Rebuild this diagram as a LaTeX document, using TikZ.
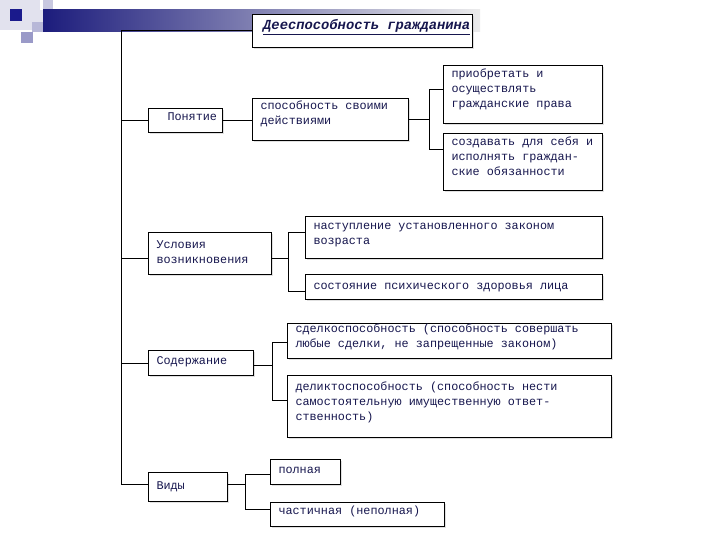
\documentclass[tikz,border=0pt]{standalone}
\usepackage{fontspec}
\setmonofont{Liberation Mono}
\usetikzlibrary{shadows}
\definecolor{txt}{HTML}{16164E}
\definecolor{navy}{HTML}{1C1C7C}
\definecolor{dkblue}{HTML}{1A1A8C}
\definecolor{lav1}{HTML}{E2E2EE}
\definecolor{lav2}{HTML}{C8C8E0}
\definecolor{lav3}{HTML}{9A9AC8}
\definecolor{lav4}{HTML}{B8B8D8}
\newcommand\tb[4]{\parbox[c][#2pt][t]{#1pt}{\fontsize{11.8}{15}\selectfont\ttfamily\raggedright\color{txt}\vspace*{\dimexpr#3pt-10.5pt\relax}\strut #4}}
\tikzset{
  box/.style={draw, line width=1pt, fill=white, inner ysep=0pt, inner xsep=8pt, anchor=north west,
    drop shadow={shadow xshift=1.5pt, shadow yshift=-1.5pt, fill=black!20, opacity=0.6}},
  conn/.style={draw, line width=1pt},
  ttl/.style={anchor=base west, inner sep=0pt, font=\fontsize{13.8}{16}\selectfont\ttfamily\bfseries\itshape}
}
\begin{document}
\begin{tikzpicture}[x=1pt,y=-1pt]
\useasboundingbox (0,0) rectangle (720,540);
\fill[white] (0,0) rectangle (720,540);
% decoration
\fill[lav1] (0,0) rectangle (40,30);
\fill[lav2] (43,0) rectangle (53,21);
\fill[lav1] (32,10) rectangle (43,22);
\fill[lav4] (32,22) rectangle (43,32);
\fill[dkblue] (10,9) rectangle (22,21);
\fill[lav3] (21,32) rectangle (33,43);
\shade[left color=navy, middle color=navy!45!gray!70, right color=gray!15] (43,10) rectangle (480,32);
% title
\node[draw, line width=1pt, fill=white, anchor=north west, minimum width=220pt, minimum height=33pt, inner sep=0pt,
  drop shadow={shadow xshift=1.5pt, shadow yshift=-1.5pt, fill=black!20, opacity=0.6}] (title) at (252,14) {};
\node[ttl, text=txt] (tt) at (263,30) {\underline{Дееспособность гражданина}};
% boxes
\node[box] (pon) at (148,108) {\tb{58}{24}{12.5}{\hspace*{11pt}Понятие}};
\node[box] (sp)  at (252,98)  {\tb{140}{42}{11}{способность своими\\действиями}};
\node[box] (a1)  at (443,65)  {\tb{143}{58}{12.5}{приобретать и\\осуществлять\\гражданские права}};
\node[box] (a2)  at (443,133) {\tb{143}{57}{12}{создавать для себя и\\исполнять граждан-\\ские обязанности}};
\node[box] (usl) at (148,232) {\tb{107}{42}{15.5}{Условия\\возникновения}};
\node[box] (b1)  at (305,216) {\tb{281}{42}{13}{наступление установленного законом\\возраста}};
\node[box] (b2)  at (305,274) {\tb{281}{25}{15}{состояние психического здоровья лица}};
\node[box] (sod) at (148,350) {\tb{89}{25}{14}{Содержание}};
\node[box] (c1)  at (287,323) {\tb{308}{35}{8.5}{сделкоспособность (способность совершать\\любые сделки, не запрещенные законом)}};
\node[box] (c2)  at (287,375) {\tb{308}{62}{15}{деликтоспособность (способность нести\\самостоятельную имущественную ответ-\\ственность)}};
\node[box] (vid) at (148,472) {\tb{63}{29}{17}{Виды}};
\node[box] (d1)  at (270,459) {\tb{54}{25}{14}{полная}};
\node[box] (d2)  at (270,502) {\tb{158}{24}{12}{частичная (неполная)}};
% trunk
\coordinate (t0) at (121,31);
\coordinate (t1) at (121,484);
\draw[conn] (title.west) -| (t1);
\coordinate (uslw) at ([yshift=-5pt]usl.west);
\coordinate (vidw) at ([yshift=2.5pt]vid.west);
\draw[conn] (pon.west) -- (pon.west -| t0);
\draw[conn] (uslw) -- (uslw -| t0);
\draw[conn] (sod.west) -- (sod.west -| t0);
\draw[conn] (vidw) -- (vidw -| t0);
\draw[conn] (pon.east) -- (pon.east -| sp.west);
% fork 1
\coordinate (f1) at ([xshift=20pt]sp.east);
\coordinate (a1w) at ([yshift=5pt]a1.west);
\coordinate (a2w) at ([yshift=12.5pt]a2.west);
\draw[conn] (sp.east) -- (f1);
\draw[conn] (a1w) -| (f1 |- a2w) -- (a2w);
% fork 2
\coordinate (usle) at ([yshift=-5pt]usl.east);
\coordinate (f2) at ([xshift=16pt]usle);
\coordinate (b1w) at ([yshift=5pt]b1.west);
\coordinate (b2w) at ([yshift=-4.5pt]b2.west);
\draw[conn] (usle) -- (f2);
\draw[conn] (b1w) -| (f2 |- b2w) -- (b2w);
% fork 3
\coordinate (sode) at ([yshift=-2.5pt]sod.east);
\coordinate (f3) at ([xshift=18pt]sode);
\coordinate (c1w) at ([yshift=-1.5pt]c1.west);
\coordinate (c2w) at ([yshift=6pt]c2.west);
\draw[conn] (sode) -- (f3);
\draw[conn] (c1w) -| (f3 |- c2w) -- (c2w);
% fork 4
\coordinate (vide) at ([yshift=2.5pt]vid.east);
\coordinate (f4) at ([xshift=17pt]vide);
\coordinate (d1w) at ([yshift=-2.5pt]d1.west);
\coordinate (d2w) at ([yshift=5pt]d2.west);
\draw[conn] (vide) -- (f4);
\draw[conn] (d1w) -| (f4 |- d2w) -- (d2w);
\end{tikzpicture}
\end{document}
